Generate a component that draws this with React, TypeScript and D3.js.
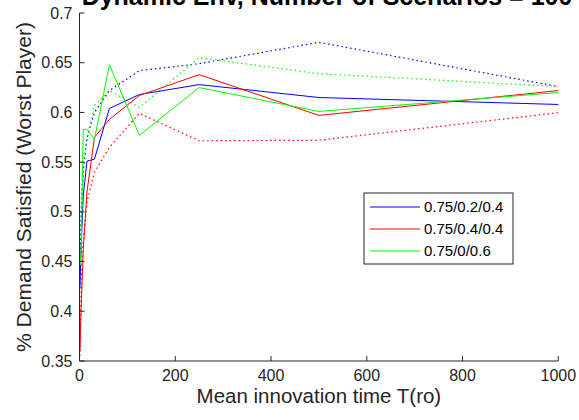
import React from 'react';
import * as d3 from 'd3';

const T = [0.98, 1.95, 3.9, 7.8, 15.6, 31.25, 62.5, 125, 250, 500, 1000];
const blueSolid = [0.423, 0.44, 0.47, 0.516, 0.551, 0.553, 0.604, 0.618, 0.628, 0.615, 0.608];
const redSolid = [0.36, 0.38, 0.41, 0.462, 0.52, 0.575, 0.593, 0.617, 0.638, 0.597, 0.622];
const greenSolid = [0.447, 0.447, 0.47, 0.583, 0.583, 0.573, 0.648, 0.577, 0.625, 0.601, 0.62];
const blueDotted = [0.44, 0.47, 0.5, 0.54, 0.575, 0.6, 0.622, 0.642, 0.649, 0.6705, 0.626];
const greenDotted = [0.45, 0.48, 0.52, 0.55, 0.572, 0.607, 0.622, 0.605, 0.655, 0.639, 0.626];
const redDotted = [0.355, 0.39, 0.43, 0.47, 0.51, 0.54, 0.565, 0.599, 0.5715, 0.572, 0.5997];

const xTicks = [0, 200, 400, 600, 800, 1000];
const yTicks = [0.35, 0.4, 0.45, 0.5, 0.55, 0.6, 0.65, 0.7];
const legendLabels = ['0.75/0.2/0.4', '0.75/0.4/0.4', '0.75/0/0.6'];
const colors = ['#0000ff', '#ff0000', '#00ff00'];

const title = 'Dynamic Env, Number of Scenarios = 100';
const xLabel = 'Mean innovation time T(ro)';
const yLabel = '% Demand Satisfied (Worst Player)';

export default function App() {
  const W = 579, H = 420;
  const left = 79.5, right = 558.3, top = 13, bottom = 361;
  const x = d3.scaleLinear().domain([0, 1000]).range([left, right]);
  const y = d3.scaleLinear().domain([0.35, 0.7]).range([bottom, top]);
  const line = d3.line<number>().x((_, i) => x(T[i])).y((d) => y(d));
  const axisColor = '#262626';
  const font = 'Arial, "Liberation Sans", Helvetica, sans-serif';

  const solids = [blueSolid, redSolid, greenSolid];
  const dots = [blueDotted, redDotted, greenDotted];

  const lx = 364, ly = 193, lw = 149, lh = 71;

  return (
    <svg width={W} height={H} style={{ position: 'absolute', left: 0, top: 0, background: '#fff' }} fontFamily={font}>
      <rect x={0} y={0} width={W} height={H} fill="#fff" />
      {dots.map((d, i) => (
        <path key={'d' + i} d={line(d) || ''} fill="none" stroke={colors[i]} strokeWidth={1.2} strokeDasharray="1.5 3" />
      ))}
      {solids.map((d, i) => (
        <path key={'s' + i} d={line(d) || ''} fill="none" stroke={colors[i]} strokeWidth={1} />
      ))}
      <line x1={left} x2={left} y1={top} y2={bottom} stroke={axisColor} strokeWidth={1} />
      <line x1={left} x2={right} y1={bottom} y2={bottom} stroke={axisColor} strokeWidth={1} />
      {yTicks.map((t) => (
        <g key={'y' + t}>
          <line x1={left} x2={left + 5} y1={y(t)} y2={y(t)} stroke={axisColor} />
          <text x={left - 7} y={y(t)} dy="0.35em" textAnchor="end" fontSize={16} fill={axisColor}>{t}</text>
        </g>
      ))}
      {xTicks.map((t) => (
        <g key={'x' + t}>
          <line x1={x(t)} x2={x(t)} y1={bottom} y2={bottom - 5} stroke={axisColor} />
          <text x={x(t)} y={380.5} textAnchor="middle" fontSize={16} fill={axisColor}>{t}</text>
        </g>
      ))}
      <text x={(left + right) / 2} y={402.5} textAnchor="middle" fontSize={20.5} fill={axisColor}>{xLabel}</text>
      <text transform={`translate(31,${(top + bottom) / 2}) rotate(-90)`} textAnchor="middle" fontSize={21} fill={axisColor}>{yLabel}</text>
      <text x={327} y={5} textAnchor="middle" fontSize={25} fontWeight="bold" fill="#000">{title}</text>
      <rect x={lx} y={ly} width={lw} height={lh} fill="#fff" stroke={axisColor} strokeWidth={1} />
      {legendLabels.map((l, i) => (
        <g key={'l' + i}>
          <line x1={370} x2={420} y1={207 + i * 22} y2={207 + i * 22} stroke={colors[i]} strokeWidth={1} />
          <text x={424} y={207 + i * 22} dy="0.35em" fontSize={15} fill="#000">{l}</text>
        </g>
      ))}
    </svg>
  );
}
